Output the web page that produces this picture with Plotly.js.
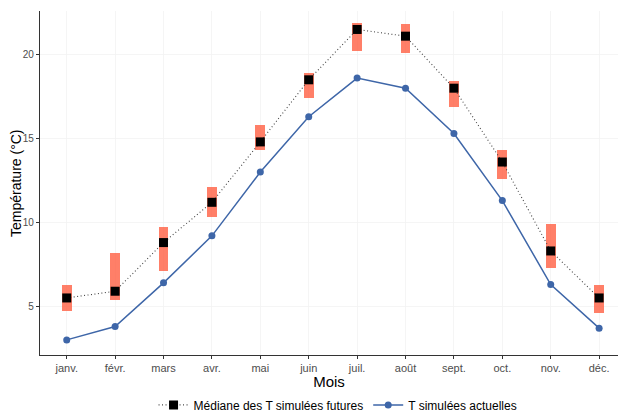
<!DOCTYPE html>
<html>
<head>
<meta charset="utf-8">
<script src="https://cdn.plot.ly/plotly-3.0.1.min.js"></script>
<style>html,body{margin:0;padding:0;background:#fff;}#chart{width:618px;height:414px;}</style>
</head>
<body>
<div id="chart"></div>
<script>
const months = ["janv.", "févr.", "mars", "avr.", "mai", "juin", "juil.", "août", "sept.", "oct.", "nov.", "déc."];
const futureMedian = [5.5, 5.9, 8.8, 11.2, 14.8, 18.5, 21.5, 21.1, 18.0, 13.6, 8.3, 5.5];
const futureMin = [4.7, 5.4, 7.1, 10.3, 14.3, 17.4, 20.2, 20.1, 16.9, 12.6, 7.3, 4.6];
const futureMax = [6.3, 8.2, 9.7, 12.1, 15.8, 18.9, 21.9, 21.8, 18.4, 14.3, 9.9, 6.3];
const currentT = [3.0, 3.8, 6.4, 9.2, 13.0, 16.3, 18.6, 18.0, 15.3, 11.3, 6.3, 3.7];
const yTicks = [5, 10, 15, 20];

const idx = months.map((m, i) => i);

const rangeBars = {
  type: 'bar',
  x: idx,
  base: futureMin,
  y: futureMax.map((v, i) => v - futureMin[i]),
  width: 0.2,
  marker: {color: 'rgba(255,99,71,0.82)', line: {width: 0}},
  showlegend: false,
  hoverinfo: 'skip'
};
const current = {
  type: 'scatter',
  mode: 'lines+markers',
  x: idx,
  y: currentT,
  name: 'T simulées actuelles',
  line: {color: '#3E66A8', width: 1.5},
  marker: {color: '#3E66A8', size: 7, symbol: 'circle'}
};
const median = {
  type: 'scatter',
  mode: 'lines+markers',
  x: idx,
  y: futureMedian,
  name: 'Médiane des T simulées futures',
  line: {color: '#444444', width: 1.1, dash: '1px,2.5px'},
  marker: {color: '#000000', size: 9, symbol: 'square'}
};

const layout = {
  width: 618,
  height: 414,
  margin: {l: 40, r: 0, t: 11, b: 59},
  paper_bgcolor: '#ffffff',
  plot_bgcolor: '#ffffff',
  font: {family: 'Liberation Sans, Arial, sans-serif', color: '#000'},
  showlegend: true,
  legend: {
    orientation: 'h',
    x: 0.547, xanchor: 'center', xref: 'container',
    y: 0.022, yanchor: 'middle', yref: 'container',
    font: {size: 12, color: '#000'},
    traceorder: 'reversed',
    itemwidth: 30
  },
  xaxis: {
    range: [-0.552, 11.39],
    tickmode: 'array',
    tickvals: idx,
    ticktext: months,
    showgrid: true,
    gridcolor: '#F2F2F2',
    gridwidth: 0.8,
    zeroline: false,
    showline: true,
    linecolor: '#333333',
    linewidth: 1.2,
    ticks: 'outside',
    ticklen: 3,
    tickcolor: '#333333',
    tickfont: {size: 11, color: '#4D4D4D'},
    title: {text: 'Mois', font: {size: 15, color: '#000'}, standoff: 4}
  },
  yaxis: {
    range: [2.1, 22.6],
    tickmode: 'array',
    tickvals: yTicks,
    ticktext: yTicks.map(String),
    showgrid: true,
    gridcolor: '#F2F2F2',
    gridwidth: 0.8,
    zeroline: false,
    showline: true,
    linecolor: '#333333',
    linewidth: 1.2,
    ticks: 'outside',
    ticklen: 3,
    tickcolor: '#333333',
    tickfont: {size: 10, color: '#4D4D4D'}
  },
  annotations: [{
    text: 'Température (°C)',
    xref: 'paper', yref: 'paper',
    x: (16 - 40) / 578, y: 0.5,
    xanchor: 'center', yanchor: 'middle',
    textangle: -90,
    showarrow: false,
    font: {size: 14, color: '#000'}
  }],
  bargap: 0
};

Plotly.newPlot('chart', [rangeBars, current, median], layout, {displayModeBar: false, staticPlot: true});
</script>
</body>
</html>
